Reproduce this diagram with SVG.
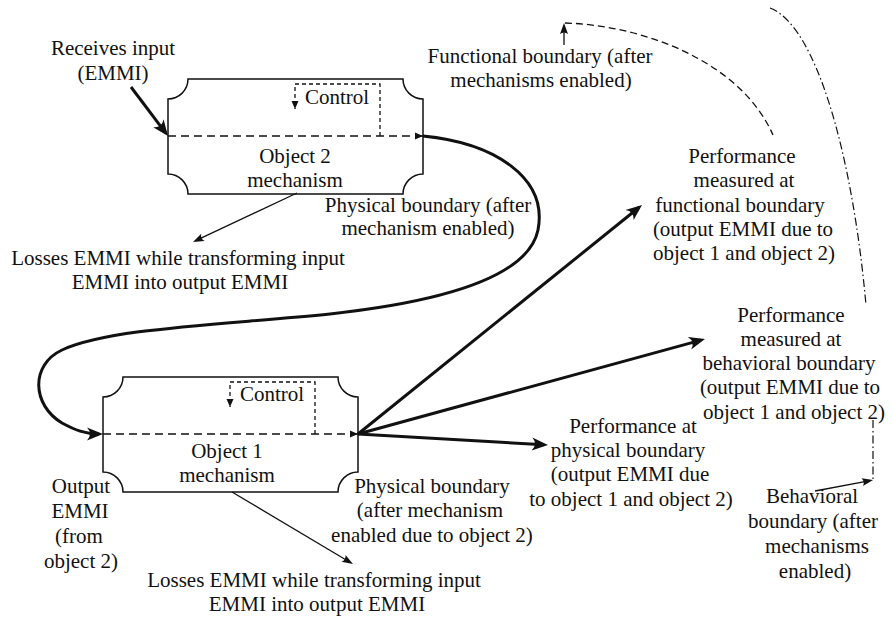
<svg xmlns="http://www.w3.org/2000/svg" width="892" height="617" viewBox="0 0 892 617">
  <defs>
    <style>
      text { font-family: "Liberation Serif", "DejaVu Serif", "Times New Roman", serif; font-size: 21px; fill: #111; }
      .lbl { text-anchor: middle; }
      .box { fill: #fff; stroke: #111; stroke-width: 1.5; }
      .flow { fill: none; stroke: #111; stroke-width: 1.4; stroke-dasharray: 8 5; }
      .ctrl { fill: none; stroke: #111; stroke-width: 1.3; stroke-dasharray: 4 3; }
      .thick { fill: none; stroke: #111; stroke-width: 3; }
      .thin { fill: none; stroke: #111; stroke-width: 1.3; }
      .func { fill: none; stroke: #111; stroke-width: 1.3; stroke-dasharray: 7 4; }
      .behav { fill: none; stroke: #111; stroke-width: 1.2; stroke-dasharray: 8 3 1.5 3; }
    </style>
    <marker id="bigHead" markerUnits="userSpaceOnUse" viewBox="-13 -7 18 14" refX="0" refY="0" markerWidth="18" markerHeight="14" orient="auto">
      <path d="M4,0 L-12,-6.5 Q-6,0 -12,6.5 Z" fill="#111"/>
    </marker>
    <marker id="smallHead" markerUnits="userSpaceOnUse" viewBox="-9 -5 13 10" refX="0" refY="0" markerWidth="13" markerHeight="10" orient="auto">
      <path d="M3,0 L-8,-4 Q-5,0 -8,4 Z" fill="#111"/>
    </marker>
    <marker id="tri" markerUnits="userSpaceOnUse" viewBox="-9 -5 10 10" refX="0" refY="0" markerWidth="10" markerHeight="10" orient="auto">
      <path d="M0,0 L-8,-3.5 L-8,3.5 Z" fill="#111"/>
    </marker>
  </defs>

  <rect width="892" height="617" fill="#fff"/>

  <!-- Object 2: mechanism box with notched corners -->
  <g id="object2">
    <path class="box" d="M188,79 H403 A20,20 0 0 0 423,99 V174 A20,20 0 0 0 403,194 H188 A20,20 0 0 0 168,174 V99 A20,20 0 0 0 188,79 Z"/>
    <path class="flow" d="M168,136 H423" marker-end="url(#tri)"/>
    <path class="ctrl" d="M380,136 V84 H295 V109" marker-end="url(#tri)"/>
    <text x="305" y="104">Control</text>
    <text class="lbl" x="295" y="163">Object 2</text>
    <text class="lbl" x="295" y="187">mechanism</text>
  </g>

  <!-- Object 1: mechanism box with notched corners -->
  <g id="object1">
    <path class="box" d="M123,377 H338 A20,20 0 0 0 358,397 V472 A20,20 0 0 0 338,492 H123 A20,20 0 0 0 103,472 V397 A20,20 0 0 0 123,377 Z"/>
    <path class="flow" d="M103,434 H358" marker-end="url(#tri)"/>
    <path class="ctrl" d="M315,434 V382 H230 V407" marker-end="url(#tri)"/>
    <text x="240" y="401">Control</text>
    <text class="lbl" x="227" y="458">Object 1</text>
    <text class="lbl" x="227" y="482">mechanism</text>
  </g>

  <!-- Labels -->
  <g id="receives-input">
    <text class="lbl" x="113" y="55">Receives input</text>
    <text class="lbl" x="113" y="80">(EMMI)</text>
  </g>
  <g id="losses-2">
    <text class="lbl" x="178" y="265">Losses EMMI while transforming input</text>
    <text class="lbl" x="180" y="289">EMMI into output EMMI</text>
  </g>
  <g id="physical-boundary-2">
    <text class="lbl" x="428" y="212">Physical boundary (after</text>
    <text class="lbl" x="428" y="235">mechanism enabled)</text>
  </g>
  <g id="functional-boundary">
    <text class="lbl" x="540" y="63">Functional boundary (after</text>
    <text class="lbl" x="541" y="87">mechanisms enabled)</text>
  </g>
  <g id="perf-functional">
    <text class="lbl" x="742" y="163">Performance</text>
    <text class="lbl" x="744" y="187">measured at</text>
    <text class="lbl" x="740" y="212">functional boundary</text>
    <text class="lbl" x="743" y="236">(output EMMI due to</text>
    <text class="lbl" x="744" y="260">object 1 and object 2)</text>
  </g>
  <g id="perf-behavioral">
    <text class="lbl" x="791" y="322">Performance</text>
    <text class="lbl" x="791" y="346">measured at</text>
    <text class="lbl" x="789" y="370">behavioral boundary</text>
    <text class="lbl" x="790" y="394">(output EMMI due to</text>
    <text class="lbl" x="794" y="419">object 1 and object 2)</text>
  </g>
  <g id="perf-physical">
    <text class="lbl" x="633" y="433">Performance at</text>
    <text class="lbl" x="628" y="457">physical boundary</text>
    <text class="lbl" x="630" y="481">(output EMMI due</text>
    <text class="lbl" x="631" y="506">to object 1 and object 2)</text>
  </g>
  <g id="physical-boundary-1">
    <text class="lbl" x="432" y="493">Physical boundary</text>
    <text class="lbl" x="430" y="517">(after mechanism</text>
    <text class="lbl" x="432" y="542">enabled due to object 2)</text>
  </g>
  <g id="output-emmi">
    <text class="lbl" x="81" y="493">Output</text>
    <text class="lbl" x="80" y="518">EMMI</text>
    <text class="lbl" x="79" y="543">(from</text>
    <text class="lbl" x="81" y="568">object 2)</text>
  </g>
  <g id="losses-1">
    <text class="lbl" x="314" y="587">Losses EMMI while transforming input</text>
    <text class="lbl" x="317" y="611">EMMI into output EMMI</text>
  </g>
  <g id="behavioral-boundary">
    <text class="lbl" x="812" y="503">Behavioral</text>
    <text class="lbl" x="813" y="528">boundary (after</text>
    <text class="lbl" x="817" y="553">mechanisms</text>
    <text class="lbl" x="815" y="578">enabled)</text>
  </g>

  <!-- Connectors -->
  <g id="connectors">
    <path class="thick" d="M131,87 L165.6,132.8" marker-end="url(#bigHead)"/>
    <path class="thick" d="M423,136 C495,143 548,178 538,230 C528,278 440,302 330,314 C220,325 110,328 62,350 C30,365 32,405 62,423 C75,430 85,434 99,434" marker-end="url(#bigHead)"/>
    <path class="thick" d="M358,434 L638.9,207.5" marker-end="url(#bigHead)"/>
    <path class="thick" d="M358,434 L701.1,340.1" marker-end="url(#bigHead)"/>
    <path class="thick" d="M358,434 L544,444.8" marker-end="url(#bigHead)"/>
    <path class="thin" d="M297,193 L195.7,240.7" marker-end="url(#smallHead)"/>
    <path class="thin" d="M232,492 L350.4,562.5" marker-end="url(#smallHead)"/>
    <path class="thin" d="M564,45 V26" marker-end="url(#smallHead)"/>
    <path class="thin" d="M815,491 L870.1,480.6" marker-end="url(#smallHead)"/>
    <path class="func" d="M565,23 C640,25 740,60 773,135"/>
    <path class="behav" d="M770,8 C815,25 852,150 866,305"/>
    <path class="behav" d="M873,420 V480"/>
  </g>
</svg>
